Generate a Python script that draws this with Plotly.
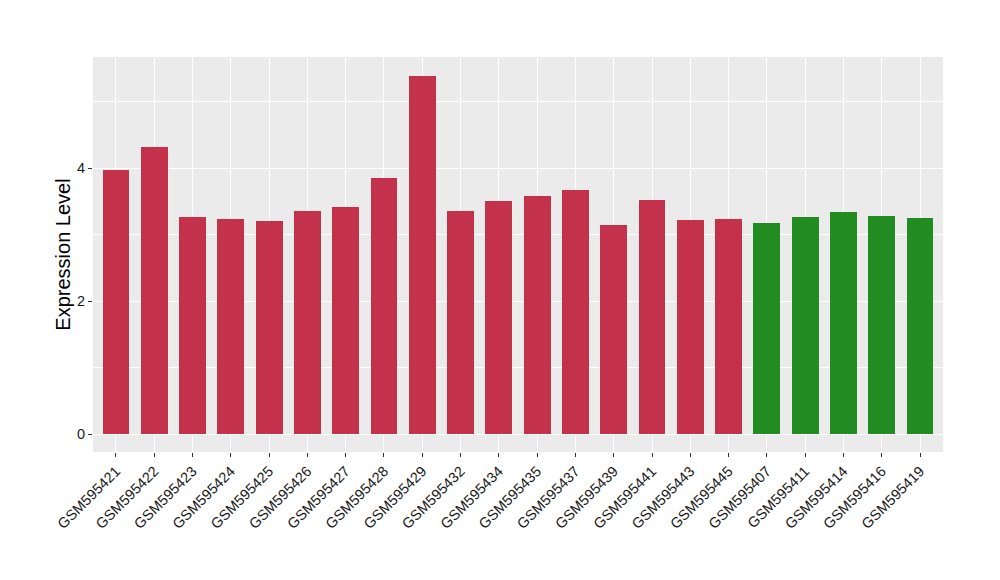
import plotly.graph_objects as go

samples = ["GSM595421", "GSM595422", "GSM595423", "GSM595424", "GSM595425", "GSM595426",
           "GSM595427", "GSM595428", "GSM595429", "GSM595432", "GSM595434", "GSM595435",
           "GSM595437", "GSM595439", "GSM595441", "GSM595443", "GSM595445", "GSM595407",
           "GSM595411", "GSM595414", "GSM595416", "GSM595419"]
values = [3.97, 4.32, 3.27, 3.24, 3.21, 3.36, 3.42, 3.85, 5.39, 3.36, 3.51, 3.58,
          3.67, 3.15, 3.52, 3.22, 3.24, 3.18, 3.27, 3.34, 3.28, 3.25]
groups = ["a"] * 17 + ["b"] * 5
group_colors = {"a": "#C3314A", "b": "#228B22"}
y_ticks = [0, 2, 4]

fig = go.Figure()
fig.add_trace(go.Bar(
    x=samples, y=values, width=0.7,
    marker=dict(color=[group_colors[g] for g in groups], line=dict(width=0)),
    showlegend=False,
))

fig.update_layout(
    width=1000, height=580,
    margin=dict(l=85, r=65, t=49, b=136, autoexpand=False),
    paper_bgcolor="white", plot_bgcolor="#EBEBEB",
    font=dict(family="Liberation Sans, Arial, sans-serif", color="#1A1A1A"),
    bargap=0,
)
fig.update_xaxes(
    type="category", range=[-0.6, len(samples) - 0.4],
    tickangle=-45, tickfont=dict(size=14.5, color="#1A1A1A"),
    showgrid=True, gridcolor="white", gridwidth=1.1,
    ticks="outside", ticklen=4, tickcolor="#333333", tickwidth=1,
    showline=False, zeroline=False, automargin=False,
)
fig.update_yaxes(
    range=[-0.27, 5.67], tickvals=y_ticks, ticktext=[str(t) for t in y_ticks],
    tickfont=dict(size=14.5, color="#1A1A1A"),
    showgrid=True, gridcolor="white", gridwidth=1.1,
    minor=dict(tickvals=[1, 3, 5], showgrid=True, gridcolor="white", gridwidth=0.5, ticks=""),
    ticks="outside", ticklen=4, tickcolor="#333333", tickwidth=1,
    showline=False, zeroline=False, automargin=False,
    title=dict(text="Expression Level", font=dict(size=20, color="black"), standoff=1),
)

fig.write_html("out.html")
